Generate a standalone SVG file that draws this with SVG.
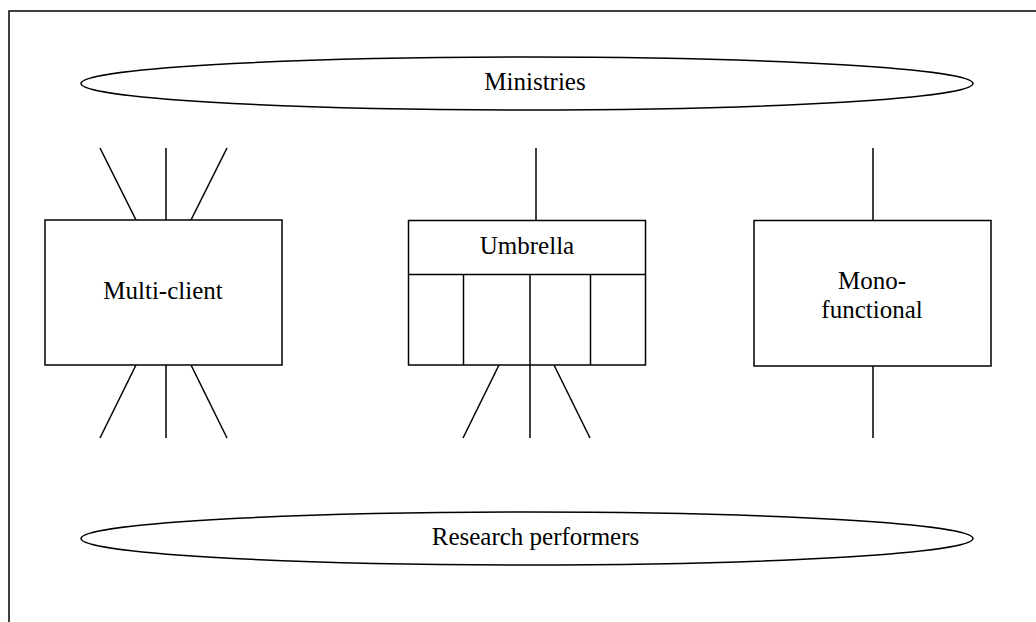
<svg xmlns="http://www.w3.org/2000/svg" width="1036" height="622" viewBox="0 0 1036 622">
<style>
.s{fill:none;stroke:#000;stroke-width:1.5}
.b{fill:#fff;stroke:#000;stroke-width:1.5}
text{font-family:'Liberation Serif','Times New Roman','DejaVu Serif',serif;font-size:25px;fill:#000;text-anchor:middle}
</style>
<rect width="1036" height="622" fill="#fff"/>
<rect id="frame" class="s" x="9" y="11" width="1100" height="700"/>
<g id="connectors" class="s">
<line x1="100" y1="148" x2="136" y2="220"/>
<line x1="166" y1="148" x2="166" y2="220"/>
<line x1="227" y1="148" x2="191" y2="220"/>
<line x1="136" y1="365" x2="100" y2="438"/>
<line x1="166" y1="365" x2="166" y2="438"/>
<line x1="191" y1="365" x2="227" y2="438"/>
<line x1="536" y1="148" x2="536" y2="220"/>
<line x1="499" y1="365" x2="463" y2="438"/>
<line x1="530" y1="365" x2="530" y2="438"/>
<line x1="554" y1="365" x2="590" y2="438"/>
<line x1="873" y1="148" x2="873" y2="220"/>
<line x1="873" y1="366" x2="873" y2="438"/>
</g>
<g id="ministries">
<ellipse class="b" cx="527" cy="83.5" rx="446" ry="26.5"/>
<text x="535" y="90" font-family="Liberation Serif, serif">Ministries</text>
</g>
<g id="research-performers">
<ellipse class="b" cx="527" cy="538.5" rx="446" ry="26.5"/>
<text x="535.5" y="545" font-family="Liberation Serif, serif">Research performers</text>
</g>
<g id="multi-client">
<rect class="b" x="45" y="220" width="237" height="145"/>
<text x="163" y="299" font-family="Liberation Serif, serif">Multi-client</text>
</g>
<g id="umbrella">
<rect class="b" x="408.5" y="220.5" width="237" height="144.5"/>
<line class="s" x1="408.5" y1="274.5" x2="645.5" y2="274.5"/>
<line class="s" x1="463.5" y1="274.5" x2="463.5" y2="365"/>
<line class="s" x1="530" y1="274.5" x2="530" y2="365"/>
<line class="s" x1="590.5" y1="274.5" x2="590.5" y2="365"/>
<text x="527" y="254" font-family="Liberation Serif, serif">Umbrella</text>
</g>
<g id="mono-functional">
<rect class="b" x="754" y="220.5" width="237" height="145.5"/>
<text x="872" y="288.5" font-family="Liberation Serif, serif">Mono-</text>
<text x="872" y="318" font-family="Liberation Serif, serif">functional</text>
</g>
</svg>
